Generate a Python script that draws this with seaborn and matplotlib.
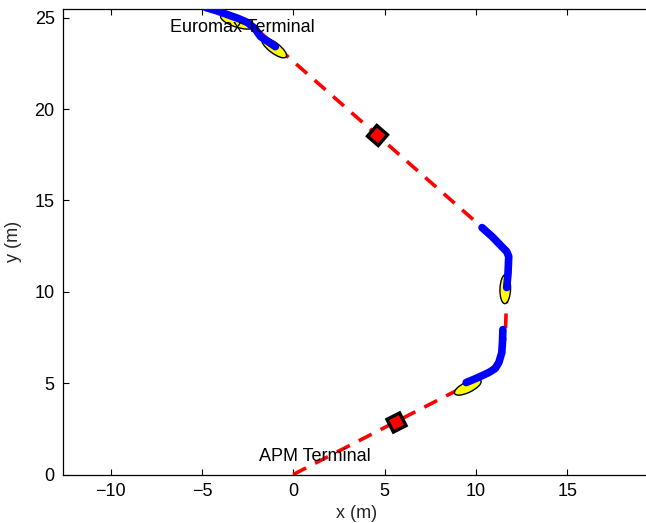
import matplotlib
matplotlib.use("Agg")
import numpy as np
import pandas as pd
import matplotlib.pyplot as plt
import seaborn as sns
from matplotlib.patches import Ellipse

# Planned route between the two terminals (waypoints, m)
route_x = [0.0, 10.6, 11.3, 11.6, 11.7, 11.75, 10.3, -2.5]
route_y = [0.0, 5.45, 6.3, 7.5, 10.5, 12.0, 13.55, 24.8]

# Recorded vessel track, three logged stretches (m)
track_top_x = [-4.78, -4.2, -3.59, -3.0, -2.5, -2.1, -1.79, -1.4, -0.98]
track_top_y = [25.55, 25.38, 25.16, 24.95, 24.73, 24.4, 23.96, 23.7, 23.41]
track_mid_x = [10.33, 10.9, 11.41, 11.68, 11.79, 11.75, 11.68]
track_mid_y = [13.51, 13.0, 12.47, 12.2, 11.93, 11.0, 10.23]
track_low_x = [9.46, 10.1, 10.7, 11.05, 11.25, 11.41, 11.45, 11.47]
track_low_y = [5.03, 5.3, 5.58, 5.8, 6.13, 6.67, 7.3, 7.93]

# Vessel snapshots: centre (m), heading (deg), length (m)
ship_x = [-3.1, -1.05, 11.6, 9.55]
ship_y = [24.78, 23.35, 10.15, 4.78]
ship_heading = [161, 143, 268, 26]
ship_len = [1.85, 1.65, 1.6, 1.6]
ship_beam = 0.58

# Intermediate waypoints on the route
wp_x = [5.6, 4.6]
wp_y = [2.88, 18.56]
wp_heading = [27, -41]

# Terminal labels
term_names = ["Euromax Terminal", "APM Terminal"]
term_x = [-6.75, -1.9]
term_y = [24.45, 0.98]

sns.set_style("ticks")
plt.rcParams["font.family"] = ["Liberation Sans", "DejaVu Sans"]
plt.rcParams["xtick.direction"] = "in"
plt.rcParams["ytick.direction"] = "in"

fig = plt.figure(figsize=(6.46, 5.23), dpi=100)
ax = fig.add_axes([63 / 646, 48.5 / 523, 587 / 646, 466 / 523])

route = pd.DataFrame({"x": route_x, "y": route_y})
sns.lineplot(data=route, x="x", y="y", sort=False, estimator=None,
             color=(1, 0, 0), linewidth=2.6, ax=ax, zorder=2)
ax.lines[-1].set_dashes((4.0, 2.8))

for cx, cy, hd, ln in zip(ship_x, ship_y, ship_heading, ship_len):
    ax.add_patch(Ellipse((cx, cy), ln, ship_beam, angle=hd,
                         facecolor=(1, 1, 0), edgecolor="black",
                         linewidth=1.0, zorder=3))

track = pd.concat([
    pd.DataFrame({"x": track_top_x, "y": track_top_y, "seg": "top"}),
    pd.DataFrame({"x": track_mid_x, "y": track_mid_y, "seg": "mid"}),
    pd.DataFrame({"x": track_low_x, "y": track_low_y, "seg": "low"}),
])
sns.lineplot(data=track, x="x", y="y", units="seg", sort=False,
             estimator=None, color=(0, 0, 1), linewidth=5.5, ax=ax,
             zorder=4, solid_capstyle="round")

for px, py, hd in zip(wp_x, wp_y, wp_heading):
    ax.plot(px, py, marker=(4, 0, hd + 45), markersize=14.5,
            markerfacecolor=(1, 0, 0), markeredgecolor="black",
            markeredgewidth=2.4, linestyle="none", zorder=5)

for name, tx, ty in zip(term_names, term_x, term_y):
    ax.text(tx, ty, name, fontsize=13, ha="left", va="center",
            color="black", zorder=6)

ax.set_xlim(-12.6, 19.52)
ax.set_ylim(0, 25.5)
ax.set_xticks([-10, -5, 0, 5, 10, 15])
ax.set_yticks([0, 5, 10, 15, 20, 25])
ax.set_xticklabels(["\u221210", "\u22125", "0", "5", "10", "15"])
ax.set_xlabel("x (m)", fontsize=13, labelpad=4)
ax.set_ylabel("y (m)", fontsize=13, labelpad=9)
ax.tick_params(axis="both", labelsize=13, length=4, width=0.8,
               colors="black", top=True, right=False, pad=6)
for side in ["left", "bottom", "top"]:
    ax.spines[side].set_visible(True)
    ax.spines[side].set_linewidth(0.9)
    ax.spines[side].set_color("black")
ax.spines["right"].set_visible(False)

fig.savefig("out.png", dpi=100)
